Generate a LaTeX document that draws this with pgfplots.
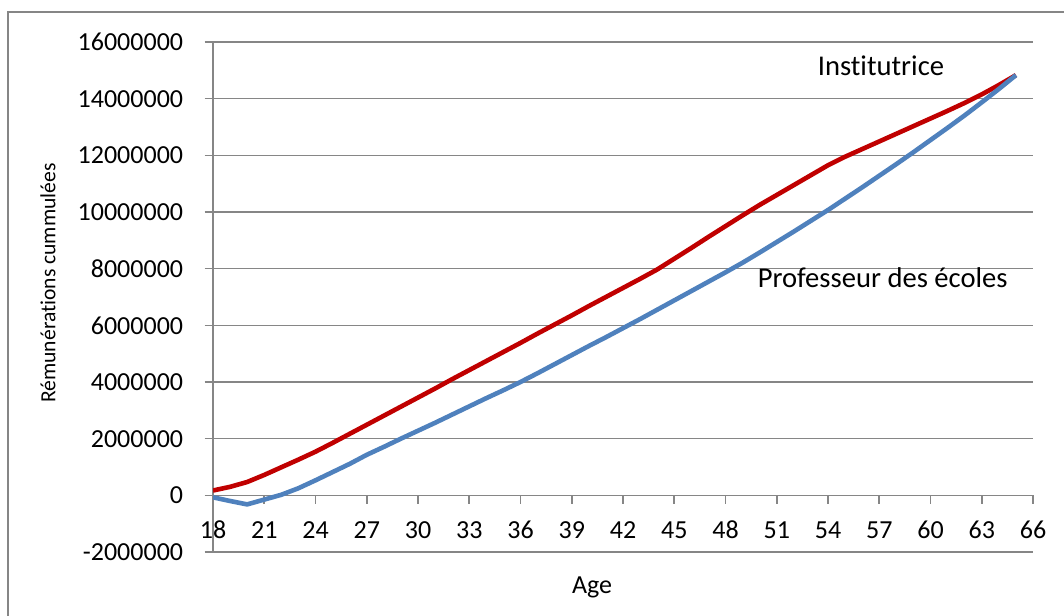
\documentclass[border=0pt]{standalone}
\usepackage{pgfplots}
\pgfplotsset{compat=1.18}
\usepackage{fontspec}
\setmainfont{Carlito}[Ligatures=NoCommon]
\definecolor{exred}{HTML}{C00000}
\definecolor{exblue}{HTML}{4F81BD}
\definecolor{exgray}{HTML}{868686}
\begin{document}
\begin{tikzpicture}
\useasboundingbox (0,0) rectangle (532pt,307.5pt);
\draw[exgray, line width=0.7pt] (4pt,-20pt) rectangle (560pt,301.5pt);
\begin{axis}[
 at={(106.5pt,31.5pt)}, anchor=south west,
 scale only axis, width=410pt, height=255pt,
 xmin=18, xmax=66, ymin=-2000000, ymax=16000000,
 axis x line=middle, axis y line=left,
 hide obscured x ticks=false,
 axis line style={-, exgray, line width=0.8pt},
 scaled y ticks=false,
 xtick={18,21,24,27,30,33,36,39,42,45,48,51,54,57,60,63,66},
 xticklabels={18,21,24,27,30,33,36,39,42,45,48,51,54,57,60,63,66},
 ytick={-2000000,0,2000000,4000000,6000000,8000000,10000000,12000000,14000000,16000000},
 yticklabels={-2000000,0,2000000,4000000,6000000,8000000,10000000,12000000,14000000,16000000},
 ymajorgrids, grid style={exgray, line width=0.8pt},
 tick align=outside, major tick length=4.25pt,
 tick style={exgray, line width=0.8pt},
 ticklabel style={font=\fontsize{13}{15}\selectfont},
 /pgf/number format/assume math mode=true,
 xticklabel style={anchor=base, inner sep=0pt, yshift=-17.5pt},
 yticklabel style={anchor=east, inner sep=0pt, xshift=-10.5pt},
]
\addplot[exred, line width=2.3pt, line join=round] coordinates {
(18,170000) (19,300000) (20,470000) (21,720000) (22,990000) (23,1260000)
(24,1540000) (25,1850000) (26,2170000) (27,2490000) (28,2810000) (29,3130000)
(30,3450000) (31,3770000) (32,4100000) (33,4420000) (34,4740000) (35,5060000)
(36,5380000) (37,5710000) (38,6030000) (39,6350000) (40,6680000) (41,7000000)
(42,7320000) (43,7640000) (44,7970000) (45,8350000) (46,8730000) (47,9120000)
(48,9500000) (49,9880000) (50,10250000) (51,10600000) (52,10950000) (53,11300000)
(54,11650000) (55,11950000) (56,12220000) (57,12490000) (58,12760000) (59,13030000)
(60,13300000) (61,13570000) (62,13850000) (63,14150000) (64,14480000) (65,14830000)
};
\addplot[exblue, line width=2.3pt, line join=round] coordinates {
(18,-70000) (19,-200000) (20,-320000) (21,-150000) (22,20000) (23,250000)
(24,530000) (25,820000) (26,1110000) (27,1430000) (28,1710000) (29,2000000)
(30,2280000) (31,2560000) (32,2850000) (33,3140000) (34,3430000) (35,3710000)
(36,4000000) (37,4310000) (38,4630000) (39,4950000) (40,5270000) (41,5580000)
(42,5900000) (43,6220000) (44,6550000) (45,6880000) (46,7210000) (47,7540000)
(48,7870000) (49,8210000) (50,8570000) (51,8940000) (52,9310000) (53,9690000)
(54,10070000) (55,10470000) (56,10870000) (57,11280000) (58,11690000) (59,12110000)
(60,12540000) (61,12970000) (62,13410000) (63,13870000) (64,14340000) (65,14830000)
};
\node[anchor=base, font=\fontsize{14.3}{17}\selectfont] at (axis cs:57.1,14810000) {Institutrice};
\node[anchor=base, font=\fontsize{14.3}{17}\selectfont] at (axis cs:57.2,7320000) {Professeur des écoles};
\end{axis}
\node[rotate=90, font=\fontsize{10.8}{13}\selectfont] at (24pt,166pt) {Rémunérations cummulées};
\node[anchor=base, font=\fontsize{13}{15}\selectfont] at (296pt,11pt) {Age};
\end{tikzpicture}
\end{document}
